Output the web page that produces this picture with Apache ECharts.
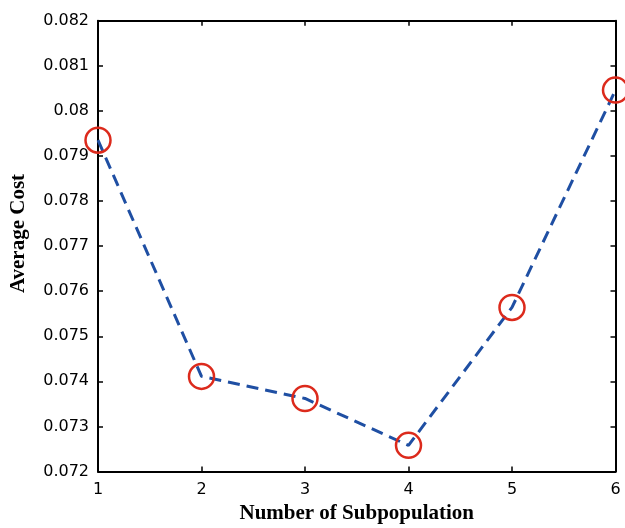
<!DOCTYPE html>
<html><head><meta charset="utf-8">
<script src="https://cdn.jsdelivr.net/npm/echarts@6/dist/echarts.min.js"></script>
<style>html,body{margin:0;padding:0;background:#fff}#c{width:625px;height:528px}</style>
</head><body><div id="c"></div>
<script>
const subpops = [1, 2, 3, 4, 5, 6];
const avgCost = [0.07935, 0.07411, 0.07362, 0.07258, 0.07564, 0.08046];
const xTitle = 'Number of Subpopulation';
const yTitle = 'Average Cost';

const chart = echarts.init(document.getElementById('c'));
const tickFont = {fontFamily: 'DejaVu Sans, sans-serif', fontSize: 16, color: '#000'};
const titleFont = {fontFamily: 'Liberation Serif, Times New Roman, serif', fontWeight: 'bold', fontSize: 21, color: '#000'};
const axisLine = {show: true, onZero: false, lineStyle: {color: '#000', width: 2}};
const axisTick = {show: true, inside: true, length: 5, lineStyle: {color: '#000', width: 1.5}};
chart.setOption({
  animation: false,
  grid: {left: 98, right: 9.5, top: 20.7, bottom: 56.5, outerBoundsMode: 'none', containLabel: false},
  xAxis: [
    {type: 'value', min: 1, max: 6, interval: 1, position: 'bottom',
     axisLine, axisTick, splitLine: {show: false},
     axisLabel: Object.assign({margin: 10}, tickFont),
     name: xTitle, nameLocation: 'middle', nameGap: 32,
     nameTextStyle: titleFont},
    {type: 'value', min: 1, max: 6, interval: 1, position: 'top',
     axisLine, axisTick, splitLine: {show: false}, axisLabel: {show: false}}
  ],
  yAxis: [
    {type: 'value', min: 0.072, max: 0.082, interval: 0.001, position: 'left',
     axisLine, axisTick, splitLine: {show: false},
     axisLabel: Object.assign({margin: 9, formatter: v => String(+v.toFixed(3))}, tickFont)},
    {type: 'value', min: 0.072, max: 0.082, interval: 0.001, position: 'right',
     axisLine, axisTick, splitLine: {show: false}, axisLabel: {show: false}}
  ],
  graphic: [{
    type: 'text', x: 19, y: 233.5, rotation: Math.PI / 2,
    style: Object.assign({text: yTitle, align: 'center', verticalAlign: 'middle', fill: '#000',
      font: 'bold 21px "Liberation Serif", "Times New Roman", serif'})
  }],
  series: [{
    type: 'line',
    data: subpops.map((x, i) => [x, avgCost[i]]),
    clip: false,
    symbol: 'circle',
    symbolSize: 25,
    lineStyle: {color: '#1f4fa3', width: 3, type: [12, 7]},
    itemStyle: {color: 'rgba(0,0,0,0)', borderColor: '#dc2a1c', borderWidth: 2.5}
  }]
});
</script></body></html>
